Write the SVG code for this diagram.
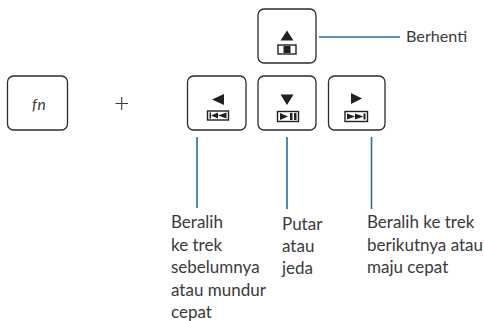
<svg xmlns="http://www.w3.org/2000/svg" width="484" height="321" viewBox="0 0 484 321">
<style>
.key{fill:#fff;stroke:#2b2b2d;stroke-width:1.3}
.g{fill:#231f20}
.bar{fill:none;stroke:#231f20;stroke-width:1.4}
.c{stroke:#1f6fb2;stroke-width:1.6;fill:none}
text{font-family:"Lato","Noto Sans",sans-serif;font-size:17px;fill:#3a3a3c}
</style>
<g id="connectors">
<path class="c" d="M319 37H400"/>
<path class="c" d="M197 137V208"/>
<path class="c" d="M287 137V209"/>
<path class="c" d="M371.500 137V209"/>
</g>
<g id="key-fn">
<rect class="key" x="7.500" y="76" width="60" height="54" rx="6"/>
<text x="32" y="110" style="font-style:italic;font-size:15.500px;letter-spacing:.6px">fn</text>
</g>
<g id="plus"><path d="M115.500 103.500H128M121.700 97V110" stroke="#3a3a3c" stroke-width="1.100" fill="none"/></g>
<g id="key-stop">
<rect class="key" x="258" y="9" width="58" height="54" rx="6"/>
<path class="g" d="M287 30.500L293.500 40.500H280.500Z"/>
<rect class="bar" x="278" y="45" width="18" height="9"/>
<rect class="g" x="283.500" y="46" width="7" height="7"/>
</g>
<g id="key-prev">
<rect class="key" x="187.500" y="76" width="58.500" height="54" rx="6"/>
<path class="g" d="M212 99.500L224 94V105Z"/>
<rect class="bar" x="207.500" y="111" width="21" height="9"/>
<path class="g" d="M209.500 112.500H211V118.500H209.500ZM211 115.500L218 112.500V118.500ZM218 115.500L226.500 112.500V118.500Z"/>
</g>
<g id="key-play">
<rect class="key" x="258" y="76" width="58" height="54" rx="6"/>
<path class="g" d="M280.500 94.500H293.500L287 105Z"/>
<rect class="bar" x="277.500" y="111.500" width="21" height="10"/>
<path class="g" d="M280 113L288 116.500L280 120ZM290 113H292.500V120H290ZM294 113H296.500V120H294Z"/>
</g>
<g id="key-next">
<rect class="key" x="328.500" y="76" width="56.500" height="54" rx="6"/>
<path class="g" d="M351 93L362 98.500L351 104Z"/>
<rect class="bar" x="345" y="111.500" width="22.500" height="10"/>
<path class="g" d="M347 113.500L355 116.500L347 119.500ZM355 113.500L363.500 116.500L355 119.500ZM363.500 113.500H365.500V119.500H363.500Z"/>
</g>
<g id="labels">
<text x="406" y="41.500" style="font-size:16.200px">Berhenti</text>
<text><tspan x="171" y="228">Beralih</tspan><tspan x="171" y="250.500">ke trek</tspan><tspan x="171" y="273">sebelumnya</tspan><tspan x="171" y="295.500">atau mundur</tspan><tspan x="171" y="318">cepat</tspan></text>
<text><tspan x="282" y="229.500">Putar</tspan><tspan x="282" y="252">atau</tspan><tspan x="282" y="274">jeda</tspan></text>
<text><tspan x="367" y="228">Beralih ke trek</tspan><tspan x="367" y="250.500">berikutnya atau</tspan><tspan x="367" y="273">maju cepat</tspan></text>
</g>
</svg>
